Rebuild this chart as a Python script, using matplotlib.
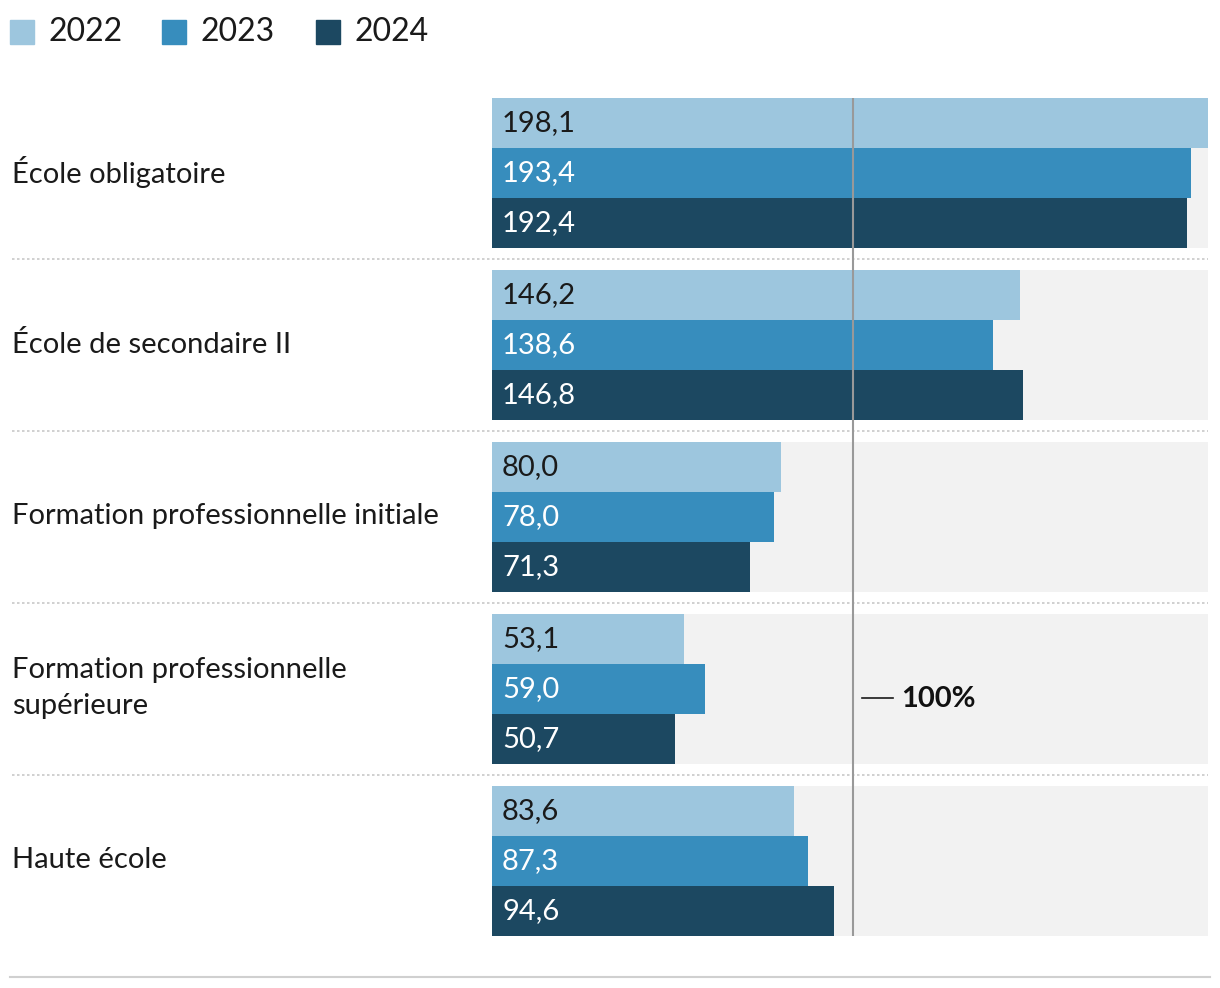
import numpy as np
import matplotlib.pyplot as plt

plt.rcParams['font.family'] = ['Lato', 'DejaVu Sans']

categories = ['École obligatoire', 'École de secondaire II',
              'Formation professionnelle initiale',
              'Formation professionnelle\nsupérieure', 'Haute école']
years = ['2022', '2023', '2024']
v2022 = [198.1, 146.2, 80.0, 53.1, 83.6]
v2023 = [193.4, 138.6, 78.0, 59.0, 87.3]
v2024 = [192.4, 146.8, 71.3, 50.7, 94.6]
series = [v2022, v2023, v2024]
reference = 100

colors = ['#9dc6de', '#378dbd', '#1c4861']
text_colors = ['#1a1a1a', 'white', 'white']

W, H = 1220, 988
fig = plt.figure(figsize=(W / 100, H / 100), dpi=100)
ax = fig.add_axes([0, 0, 1, 1])

# x in data units, y in pixel rows
x0_px, x1_px = 492, 1208
vmax = max(max(s) for s in series)
k = vmax / (x1_px - x0_px)
ax.set_xlim(-x0_px * k, (W - x0_px) * k)
ax.set_ylim(H, 0)
ax.axis('off')


def px(xp):
    return (xp - x0_px) * k


top0, step, bh = 98, 172, 50
for i, cat in enumerate(categories):
    top = top0 + i * step
    ax.barh(top + 1.5 * bh, vmax, height=3 * bh, left=0, color='#f2f2f2', zorder=0)
    for j, s in enumerate(series):
        yc = top + bh / 2 + j * bh
        ax.barh(yc, s[i], height=bh, left=0, color=colors[j], zorder=1)
        ax.text(px(502), yc, f'{s[i]:.1f}'.replace('.', ','), color=text_colors[j],
                fontsize=21, va='center', ha='left', zorder=3)
    ax.text(px(12), top + 1.5 * bh - 1, cat, fontsize=21, va='center', ha='left',
            color='#1a1a1a', linespacing=1.45)
    if i < len(categories) - 1:
        ysep = top + 3 * bh + 11
        ax.plot([px(12), px(1208)], [ysep, ysep], color='#c8c8c8', lw=1.2,
                linestyle=(0, (1.5, 1.5)), zorder=1)

last_bottom = top0 + (len(categories) - 1) * step + 3 * bh
ax.plot([reference, reference], [top0 + 0.5, last_bottom], color='#999999', lw=1.5,
        zorder=2, solid_capstyle='butt')
ax.plot([px(862), px(893)], [698, 698], color='#1a1a1a', lw=1.2, zorder=3)
ax.text(px(901), 699, f'{reference}%', fontsize=21, fontweight='bold',
        va='center', ha='left', color='#111111', zorder=3)

ax.plot([px(10), px(1210)], [977, 977], color='#d0d0d0', lw=1.5)

# legend
leg_x = [10, 162, 316]
for j, y in enumerate(years):
    ax.add_patch(plt.Rectangle((px(leg_x[j]), 20), 24 * k, 24, color=colors[j],
                               clip_on=False))
    ax.text(px(leg_x[j] + 38), 32, y, fontsize=23, va='center', ha='left',
            color='#1a1a1a')

fig.savefig('out.png', dpi=100)
